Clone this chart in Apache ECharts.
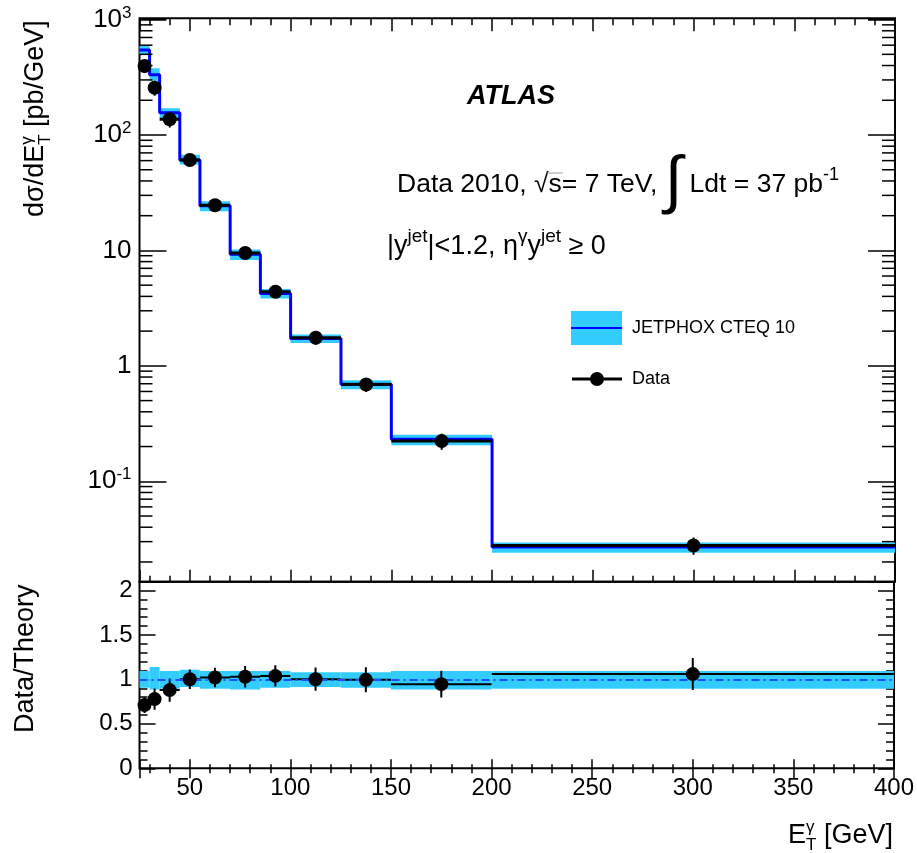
<!DOCTYPE html>
<html>
<head>
<meta charset="utf-8">
<title>Isolated photon + jet cross section vs photon ET</title>
<script src="https://cdn.jsdelivr.net/npm/echarts@6/dist/echarts.min.js"></script>
<style>
  html, body { margin: 0; padding: 0; background: #fff; }
  #chart { width: 917px; height: 853px; }
</style>
</head>
<body>
<div id="chart"></div>
<script>
// ---- binning (GeV) ----
const binEdges   = [25, 30, 35, 45, 55, 70, 85, 100, 125, 150, 200, 400];
const binCenters = [27.5, 32.5, 40, 50, 62.5, 77.5, 92.5, 112.5, 137.5, 175, 300];

// ---- JETPHOX CTEQ 10 prediction, pb/GeV, with relative uncertainty band ----
const theoryXsec     = [546, 333, 156, 60.7, 24.4, 9.29, 4.24, 1.73, 0.692, 0.231, 0.0269];
const theoryBandLow  = [0.906, 0.888, 0.895, 0.914, 0.895, 0.888, 0.906, 0.914, 0.906, 0.888, 0.895];
const theoryBandHigh = [1.094, 1.139, 1.094, 1.109, 1.094, 1.094, 1.094, 1.082, 1.082, 1.094, 1.094];

// ---- measured cross section, pb/GeV, and relative total uncertainty ----
const dataXsec   = [396, 257, 137, 60.7, 24.6, 9.5, 4.39, 1.75, 0.69, 0.223, 0.0278];
const dataRelErr = [0.13, 0.15, 0.15, 0.11, 0.11, 0.12, 0.12, 0.13, 0.14, 0.16, 0.17];

// ---- data / theory ----
const ratioValues = [0.711, 0.779, 0.88, 1.003, 1.022, 1.03, 1.04, 1.003, 0.996, 0.947, 1.06];
const ratioErr    = [0.09, 0.12, 0.13, 0.11, 0.11, 0.12, 0.12, 0.13, 0.14, 0.15, 0.18];

// ---- tick labels ----
const xTickValues   = [50, 100, 150, 200, 250, 300, 350, 400];
const yDecadeValues = [0.1, 1, 10, 100, 1000];
const yDecadeLabels = ['10{s|-1}', '1', '10', '10{s|2}', '10{s|3}'];
const ratioTickValues = [0, 0.5, 1, 1.5, 2];
const ratioTickLabels = ['0', '0.5', '1', '1.5', '2'];

// ---- axis ranges ----
const X_MIN = 25, X_MAX = 400;
const Y_MIN = 0.01349, Y_MAX = 1026;
const R_MIN = 0, R_MAX = 2.1;

const FAMILY = '"Liberation Sans", Arial, Helvetica, sans-serif';
const CYAN = '#33ccff';
const BLUE = '#0000ff';

// log-axis minor tick positions (2..9 per decade) inside the axis range
const logMinorTicks = [];
for (let k = -2; k <= 3; k++) {
  for (let m = 2; m <= 9; m++) {
    const v = m * Math.pow(10, k);
    if (v > Y_MIN && v < Y_MAX) logMinorTicks.push([X_MIN, v]);
  }
}

// ---- series data built from the arrays above ----
const nBins = theoryXsec.length;
const theoryStep = binEdges.map((e, i) => [e, theoryXsec[Math.min(i, nBins - 1)]]);
const theoryBandTop = theoryXsec.map((t, i) =>
  [binEdges[i], binEdges[i + 1], t * theoryBandLow[i], t * theoryBandHigh[i]]);
const theoryBandRatio = theoryXsec.map((t, i) =>
  [binEdges[i], binEdges[i + 1], theoryBandLow[i], theoryBandHigh[i]]);
const dataBarsTop = dataXsec.map((v, i) =>
  [binCenters[i], v, binEdges[i], binEdges[i + 1], v * (1 - dataRelErr[i]), v * (1 + dataRelErr[i])]);
const dataBarsRatio = ratioValues.map((v, i) =>
  [binCenters[i], v, binEdges[i], binEdges[i + 1], v - ratioErr[i], v + ratioErr[i]]);
const dataPointsTop = dataXsec.map((v, i) => [binCenters[i], v]);
const dataPointsRatio = ratioValues.map((v, i) => [binCenters[i], v]);

// ---- render helpers ----
function bandItem(params, api) {
  const a = api.coord([api.value(0), api.value(3)]);
  const b = api.coord([api.value(1), api.value(2)]);
  return {
    type: 'rect',
    shape: { x: a[0], y: a[1], width: b[0] - a[0], height: b[1] - a[1] },
    style: { fill: CYAN }
  };
}
function errorBarItem(hWidth, vWidth) {
  return function (params, api) {
    const xc = api.value(0), y = api.value(1);
    const pl = api.coord([api.value(2), y]);
    const pr = api.coord([api.value(3), y]);
    const pt = api.coord([xc, api.value(5)]);
    const pb = api.coord([xc, api.value(4)]);
    return {
      type: 'group',
      children: [
        { type: 'line', shape: { x1: pl[0], y1: pl[1], x2: pr[0], y2: pr[1] },
          style: { stroke: '#000', lineWidth: hWidth } },
        { type: 'line', shape: { x1: pt[0], y1: pt[1], x2: pb[0], y2: pb[1] },
          style: { stroke: '#000', lineWidth: vWidth } }
      ]
    };
  };
}
function logMinorTickItem(params, api) {
  const v = api.value(1);
  const pl = api.coord([X_MIN, v]);
  const pr = api.coord([X_MAX, v]);
  const len = 13;
  return {
    type: 'group',
    children: [
      { type: 'line', shape: { x1: pl[0], y1: pl[1], x2: pl[0] + len, y2: pl[1] },
        style: { stroke: '#000', lineWidth: 1.5 } },
      { type: 'line', shape: { x1: pr[0] - len, y1: pr[1], x2: pr[0], y2: pr[1] },
        style: { stroke: '#000', lineWidth: 1.5 } }
    ]
  };
}

// ---- text runs with super/subscripts ----
const mctx = document.createElement('canvas').getContext('2d');
function fontStr(r) {
  return (r.italic ? 'italic ' : '') + (r.bold ? 'bold ' : '') + r.size + 'px ' + FAMILY;
}
function measure(r) { mctx.font = fontStr(r); return mctx.measureText(r.t).width; }
// lay out runs along a baseline; run.stack keeps x for the following run
function layoutRuns(runs, x0, base) {
  let x = x0, pending = 0;
  const els = [], pos = [];
  runs.forEach(r => {
    const w = measure(r);
    const y = base + (r.dy || 0) - 0.3465 * r.size;
    pos.push({ x: x, w: w });
    els.push({
      type: 'text', x: x, y: y, silent: true,
      style: { text: r.t, font: fontStr(r), fill: r.fill || '#000', align: 'left', verticalAlign: 'middle' }
    });
    if (r.stack) { pending = Math.max(pending, w); }
    else { x += Math.max(w, pending); pending = 0; }
  });
  return { els: els, width: x - x0, pos: pos };
}
function runsWidth(runs) { return layoutRuns(runs, 0, 0).width; }

// y title of the cross-section panel
const yTitleRuns = [
  { t: 'dσ/dE', size: 27 },
  { t: 'γ', size: 17, dy: -12, stack: true },
  { t: 'T', size: 17, dy: 6 },
  { t: ' [pb/GeV]', size: 27 }
];
// y title of the ratio panel
const rTitleRuns = [{ t: 'Data/Theory', size: 27 }];
// x title
const xTitleRuns = [
  { t: 'E', size: 27 },
  { t: 'γ', size: 17, dy: -12, stack: true },
  { t: 'T', size: 17, dy: 6 },
  { t: ' [GeV]', size: 27 }
];
// annotations
const atlasRuns = [{ t: 'ATLAS', size: 27, bold: true, italic: true }];
const lumiRuns = [
  { t: 'Data 2010, ', size: 26.5 },
  { t: '√', size: 26.5 },
  { t: 's', size: 26.5 },
  { t: '= 7 TeV, ', size: 26.5 },
  { t: '∫', size: 64, dy: 12 },
  { t: ' Ldt = 37 pb', size: 26.5 },
  { t: '-1', size: 18, dy: -13 }
];
const cutRuns = [
  { t: '|y', size: 27 },
  { t: 'jet', size: 19, dy: -13 },
  { t: '|<1.2, η', size: 27 },
  { t: 'γ', size: 19, dy: -13 },
  { t: 'y', size: 27 },
  { t: 'jet', size: 19, dy: -13 },
  { t: ' ≥ 0', size: 27 }
];

const graphics = [];
// rotated titles: origin at baseline, text reading upward
const yTitle = layoutRuns(yTitleRuns, 0, 0);
graphics.push({ type: 'group', x: 45, y: 217, rotation: Math.PI / 2, children: yTitle.els });
const rTitle = layoutRuns(rTitleRuns, 0, 0);
graphics.push({ type: 'group', x: 35, y: 733, rotation: Math.PI / 2, children: rTitle.els });
// x title, right aligned
const xw = runsWidth(xTitleRuns);
layoutRuns(xTitleRuns, 893 - xw, 845).els.forEach(e => graphics.push(e));
// ATLAS label, centred
const aw = runsWidth(atlasRuns);
layoutRuns(atlasRuns, 511 - aw / 2, 106).els.forEach(e => graphics.push(e));
// luminosity line with overline on sqrt(s)
const lumi = layoutRuns(lumiRuns, 397, 194);
lumi.els.forEach(e => graphics.push(e));
graphics.push({
  type: 'line', silent: true,
  shape: { x1: lumi.pos[1].x + lumi.pos[1].w - 2, y1: 194 - 21, x2: lumi.pos[2].x + lumi.pos[2].w + 1, y2: 194 - 21 },
  style: { stroke: '#999', lineWidth: 1 }
});
// kinematic selection line
layoutRuns(cutRuns, 387, 256).els.forEach(e => graphics.push(e));

// legend
graphics.push(
  { type: 'rect', silent: true, shape: { x: 571, y: 311, width: 51, height: 34 }, style: { fill: CYAN } },
  { type: 'line', silent: true, shape: { x1: 571, y1: 328, x2: 622, y2: 328 }, style: { stroke: BLUE, lineWidth: 2 } },
  { type: 'text', silent: true, x: 632, y: 328,
    style: { text: 'JETPHOX CTEQ 10', font: '18px ' + FAMILY, fill: '#000', verticalAlign: 'middle' } },
  { type: 'line', silent: true, shape: { x1: 572, y1: 379, x2: 622, y2: 379 }, style: { stroke: '#000', lineWidth: 3 } },
  { type: 'circle', silent: true, shape: { cx: 597, cy: 379, r: 7 }, style: { fill: '#000' } },
  { type: 'text', silent: true, x: 632, y: 379,
    style: { text: 'Data', font: '18px ' + FAMILY, fill: '#000', verticalAlign: 'middle' } }
);

// ---- axes ----
const GRID_L = 139.5, GRID_W = 755.5;
const isClose = (a, b) => Math.abs(a - b) <= 1e-6 * Math.max(1, Math.abs(b));

function xAxisCfg(grid, position, showLabels, major, minor) {
  return {
    type: 'value', gridIndex: grid, position: position,
    min: X_MIN, max: X_MAX, splitNumber: 8, minInterval: 50, maxInterval: 50,
    axisLine: { show: false },
    splitLine: { show: false },
    axisTick: { show: true, inside: true, length: major, interval: 0, lineStyle: { color: '#000', width: 1.5 } },
    minorTick: { show: true, splitNumber: 5, length: minor, lineStyle: { color: '#000', width: 1.5 } },
    axisLabel: showLabels ? {
      show: true, interval: 0, margin: 8, color: '#000', fontSize: 24, fontFamily: FAMILY,
      formatter: v => { const i = xTickValues.findIndex(t => isClose(t, v)); return i >= 0 ? String(xTickValues[i]) : ''; }
    } : { show: false }
  };
}
function logYAxisCfg(position, showLabels) {
  return {
    type: 'log', logBase: 10, gridIndex: 0, position: position,
    min: Y_MIN, max: Y_MAX,
    axisLine: { show: false },
    splitLine: { show: false },
    minorTick: { show: false },
    axisTick: { show: true, inside: true, length: 27, lineStyle: { color: '#000', width: 1.5 } },
    axisLabel: showLabels ? {
      show: true, margin: 8, color: '#000', fontSize: 26, fontFamily: FAMILY, lineHeight: 30,
      formatter: v => { const i = yDecadeValues.findIndex(t => isClose(t, v)); return i >= 0 ? yDecadeLabels[i] : ''; },
      rich: { s: { fontSize: 17, lineHeight: 17, verticalAlign: 'top', fontFamily: FAMILY, color: '#000' } }
    } : { show: false }
  };
}
function ratioYAxisCfg(position, showLabels) {
  return {
    type: 'value', gridIndex: 1, position: position,
    min: R_MIN, max: R_MAX, interval: 0.5,
    axisLine: { show: false },
    splitLine: { show: false },
    axisTick: { show: true, inside: true, length: 16, lineStyle: { color: '#000', width: 1.5 } },
    minorTick: { show: true, splitNumber: 5, length: 8, lineStyle: { color: '#000', width: 1.5 } },
    axisLabel: showLabels ? {
      show: true, margin: 7, color: '#000', fontSize: 24, fontFamily: FAMILY,
      formatter: v => { const i = ratioTickValues.findIndex(t => isClose(t, v)); return i >= 0 ? ratioTickLabels[i] : ''; }
    } : { show: false }
  };
}

const option = {
  animation: false,
  backgroundColor: '#fff',
  grid: [
    { left: GRID_L, top: 18.3, width: GRID_W, height: 563.4, show: true, borderColor: '#000', borderWidth: 2, backgroundColor: 'transparent' },
    { left: GRID_L, top: 581.7, width: GRID_W, height: 186.6, show: true, borderColor: '#000', borderWidth: 2, backgroundColor: 'transparent' }
  ],
  xAxis: [
    xAxisCfg(0, 'bottom', false, 12, 6),
    xAxisCfg(0, 'top', false, 13, 7),
    xAxisCfg(1, 'bottom', true, 9, 4),
    xAxisCfg(1, 'top', false, 10, 5)
  ],
  yAxis: [
    logYAxisCfg('left', true),
    logYAxisCfg('right', false),
    ratioYAxisCfg('left', true),
    ratioYAxisCfg('right', false)
  ],
  series: [
    // upper panel
    { type: 'custom', name: 'theory band', xAxisIndex: 0, yAxisIndex: 0, clip: true,
      data: theoryBandTop, renderItem: bandItem, z: 2, silent: true },
    { type: 'line', name: 'JETPHOX CTEQ 10', xAxisIndex: 0, yAxisIndex: 0, step: 'end',
      data: theoryStep, symbol: 'none', lineStyle: { color: BLUE, width: 3 }, z: 3, silent: true },
    { type: 'custom', name: 'data bars', xAxisIndex: 0, yAxisIndex: 0, clip: true,
      data: dataBarsTop, renderItem: errorBarItem(3, 2), z: 4, silent: true },
    { type: 'scatter', name: 'Data', xAxisIndex: 0, yAxisIndex: 0,
      data: dataPointsTop, symbol: 'circle', symbolSize: 14, itemStyle: { color: '#000', opacity: 1 }, z: 5, silent: true },
    { type: 'custom', name: 'log minor ticks', xAxisIndex: 0, yAxisIndex: 0,
      data: logMinorTicks, renderItem: logMinorTickItem, z: 6, silent: true },
    // ratio panel
    { type: 'custom', name: 'theory band ratio', xAxisIndex: 2, yAxisIndex: 2, clip: true,
      data: theoryBandRatio, renderItem: bandItem, z: 2, silent: true,
      markLine: { silent: true, symbol: 'none', label: { show: false },
        lineStyle: { color: '#1f4fff', width: 2, type: [8, 4, 2, 4] }, data: [{ yAxis: 1 }] } },
    { type: 'custom', name: 'data bars ratio', xAxisIndex: 2, yAxisIndex: 2, clip: true,
      data: dataBarsRatio, renderItem: errorBarItem(2, 2), z: 4, silent: true },
    { type: 'scatter', name: 'Data ratio', xAxisIndex: 2, yAxisIndex: 2,
      data: dataPointsRatio, symbol: 'circle', symbolSize: 14, itemStyle: { color: '#000', opacity: 1 }, z: 5, silent: true }
  ],
  graphic: graphics
};

const chart = echarts.init(document.getElementById('chart'));
chart.setOption(option);
</script>
</body>
</html>
